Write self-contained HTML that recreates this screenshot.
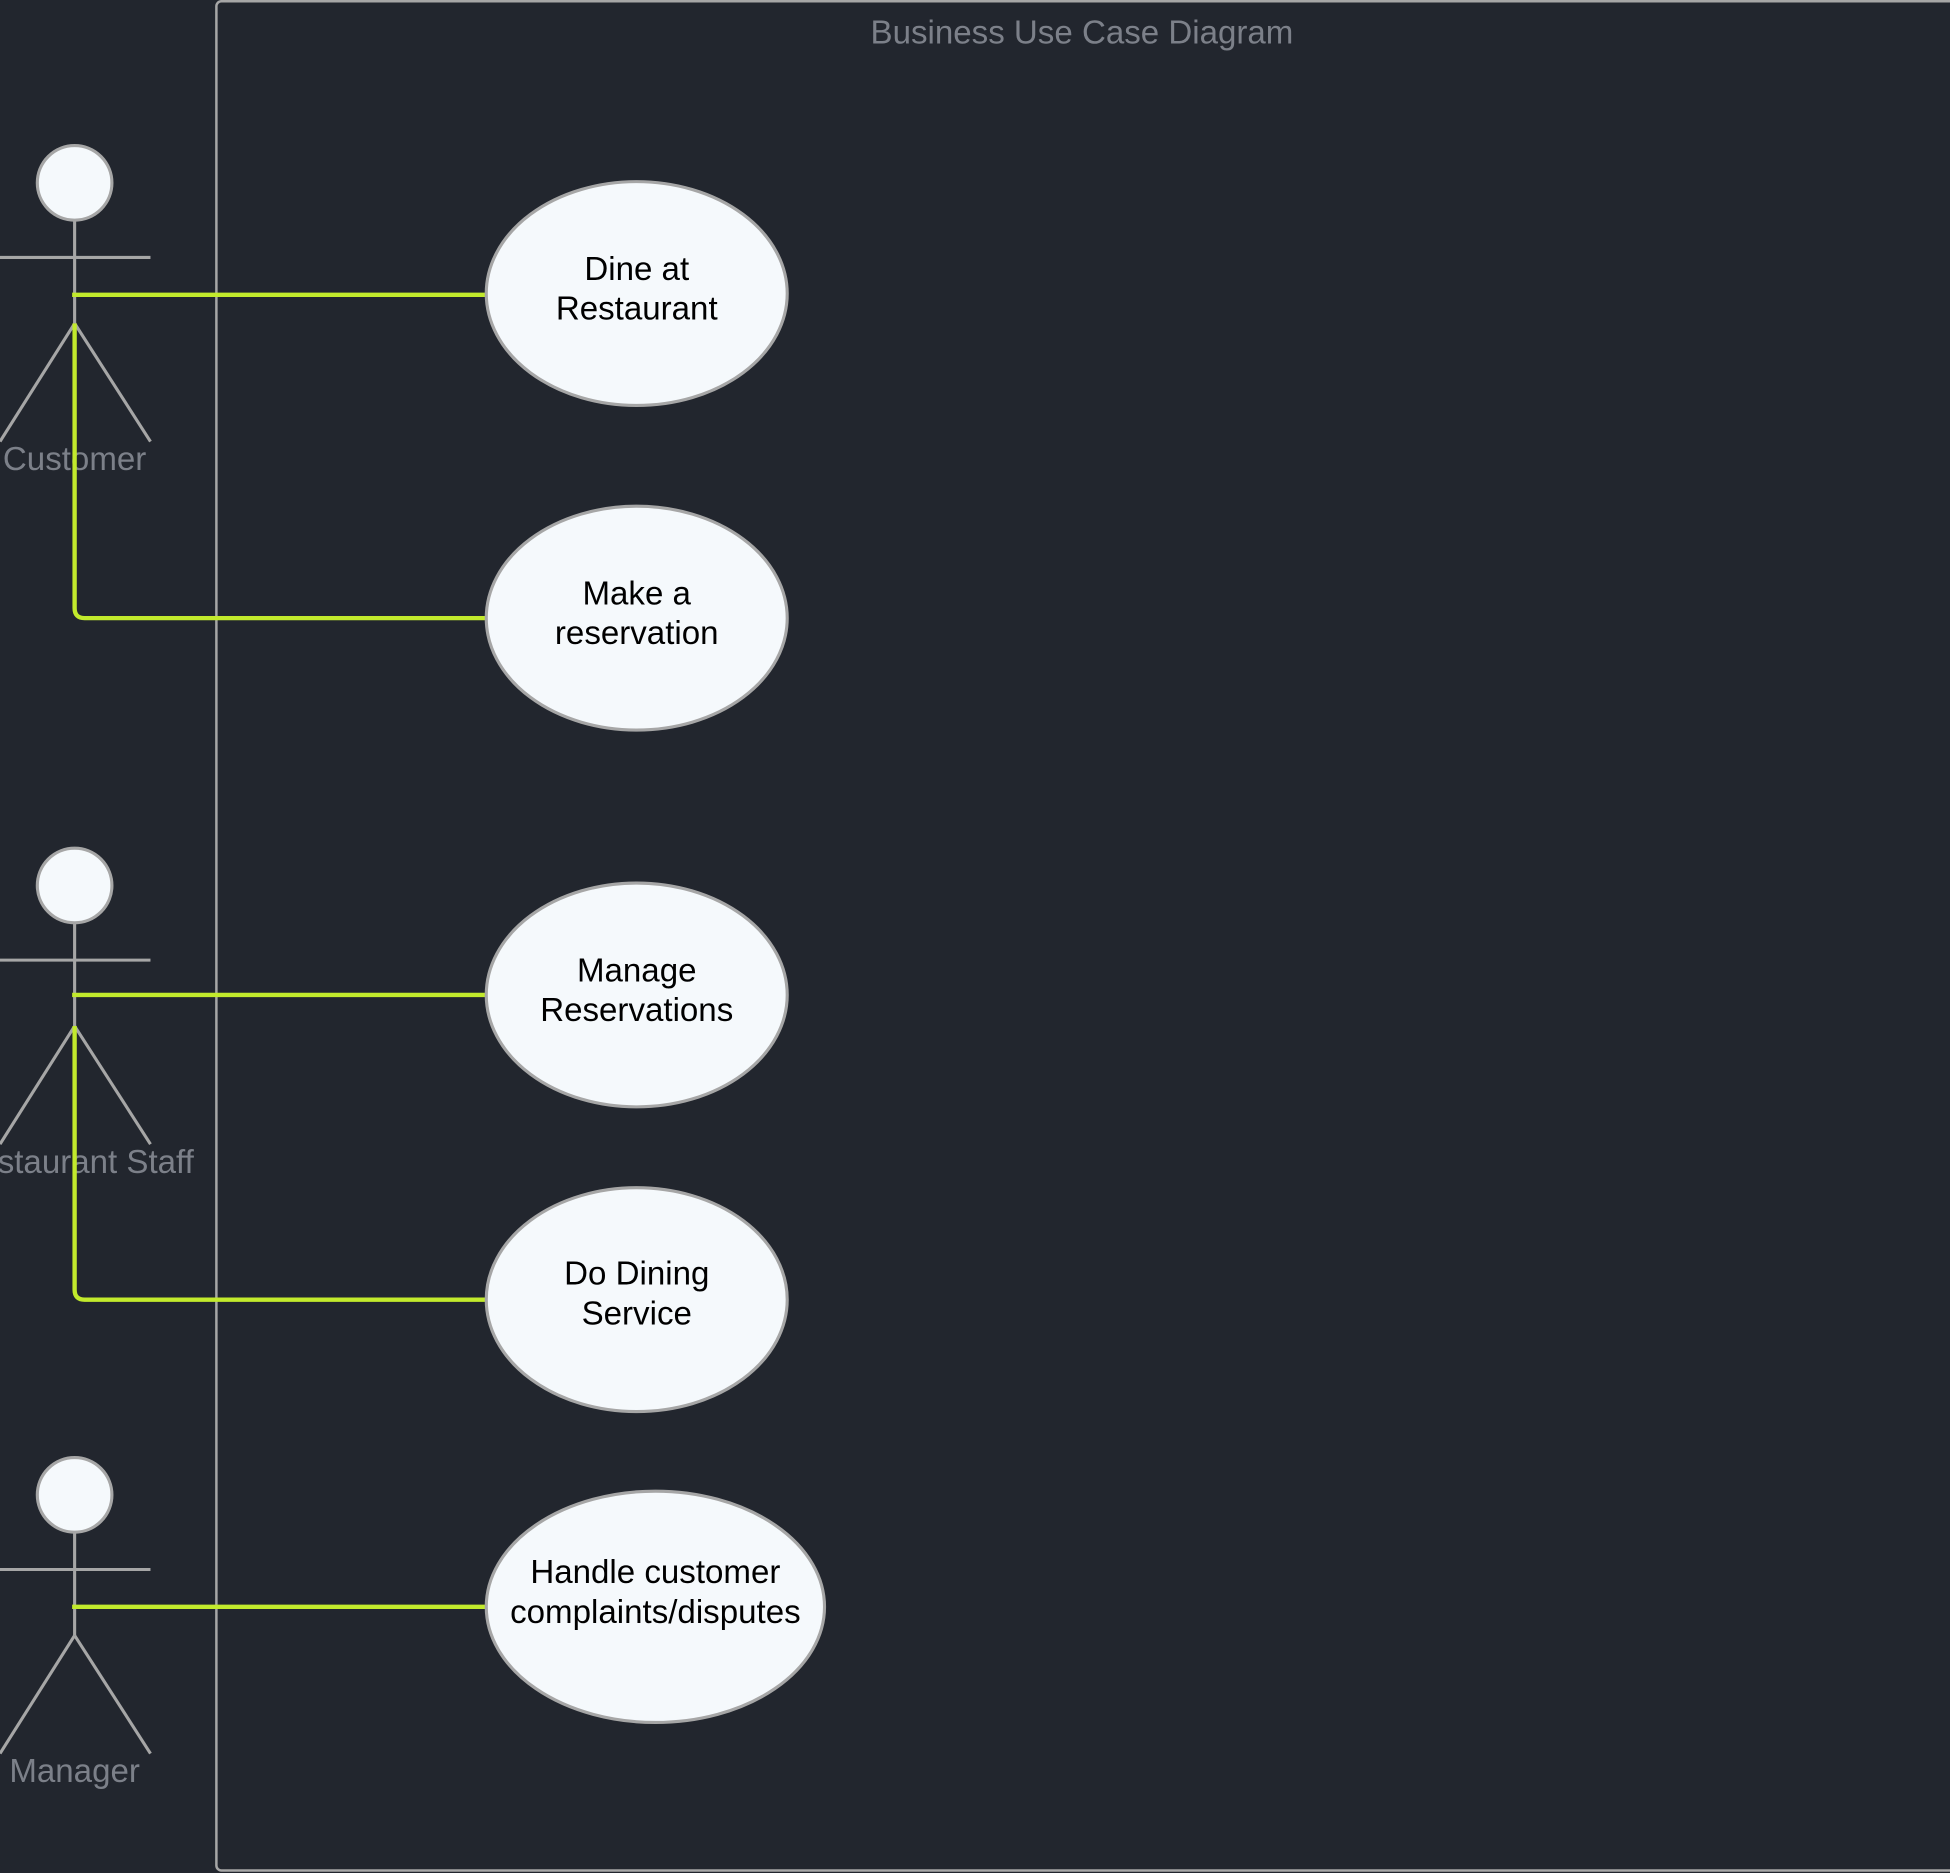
<!DOCTYPE html>
<html><head><meta charset="utf-8"><style>
html,body{margin:0;padding:0;background:#22262e;width:1950px;height:1873px;overflow:hidden}
svg{display:block}
text{font-family:"Liberation Sans",sans-serif}
</style></head><body>
<svg width="1950" height="1873" viewBox="0 0 1568 1506" xmlns="http://www.w3.org/2000/svg">
<rect x="0" y="0" width="1568" height="1506" fill="#22262e"/>
<rect x="174" y="1" width="1400" height="1503" rx="4" fill="none" stroke="#a6a6a6" stroke-width="2"/>
<text x="870" y="35" font-size="26.6" fill="#7c8089" text-anchor="middle">Business Use Case Diagram</text>
<g stroke="#a6a6a6" stroke-width="2.5" fill="none">
<line x1="60" y1="177" x2="60" y2="260"/><line x1="0" y1="207" x2="121" y2="207"/>
<line x1="60" y1="260" x2="0" y2="355"/><line x1="60" y1="260" x2="121" y2="355"/>
<line x1="60" y1="742" x2="60" y2="825"/><line x1="0" y1="772" x2="121" y2="772"/>
<line x1="60" y1="825" x2="0" y2="920"/><line x1="60" y1="825" x2="121" y2="920"/>
<line x1="60" y1="1232" x2="60" y2="1315"/><line x1="0" y1="1262" x2="121" y2="1262"/>
<line x1="60" y1="1315" x2="0" y2="1410"/><line x1="60" y1="1315" x2="121" y2="1410"/>
</g>
<g fill="#f5f9fc" stroke="#a6a6a6" stroke-width="2.5">
<circle cx="60" cy="147" r="30"/><circle cx="60" cy="712" r="30"/><circle cx="60" cy="1202" r="30"/>
</g>
<g font-size="26.6" fill="#7c8089" text-anchor="middle">
<text x="60" y="378">Customer</text>
<text x="60" y="943">Restaurant Staff</text>
<text x="60" y="1433">Manager</text>
</g>
<g stroke="#c2ea2c" stroke-width="3.5" fill="none">
<path d="M58 237 H390"/><path d="M60 260 V489 Q60 497 68 497 H390"/>
<path d="M58 800 H390"/><path d="M60 825 V1037 Q60 1045 68 1045 H390"/>
<path d="M58 1292 H390"/>
</g>
<g fill="#f5f9fc" stroke="#a6a6a6" stroke-width="2.5">
<ellipse cx="512" cy="236" rx="121" ry="90"/>
<ellipse cx="512" cy="497" rx="121" ry="90"/>
<ellipse cx="512" cy="800" rx="121" ry="90"/>
<ellipse cx="512" cy="1045" rx="121" ry="90"/>
<ellipse cx="527" cy="1292" rx="136" ry="93"/>
</g>
<g font-size="26.6" fill="#000" text-anchor="middle">
<text x="512" y="225">Dine at</text><text x="512" y="257">Restaurant</text>
<text x="512" y="486">Make a</text><text x="512" y="518">reservation</text>
<text x="512" y="789">Manage</text><text x="512" y="821">Reservations</text>
<text x="512" y="1033">Do Dining</text><text x="512" y="1065">Service</text>
<text x="527" y="1273">Handle customer</text><text x="527" y="1305">complaints/disputes</text>
</g>
</svg>
</body></html>
